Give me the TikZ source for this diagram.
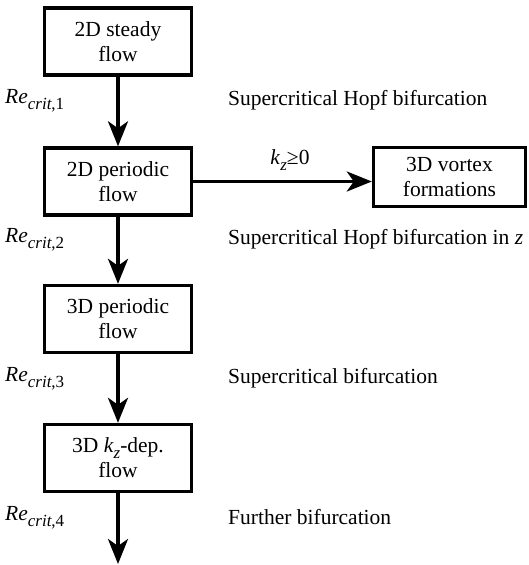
\documentclass[tikz,border=0pt]{standalone}
\usepackage{fontspec}
\setmainfont{Liberation Serif}
\usetikzlibrary{arrows.meta}
\newcommand{\lowsub}[1]{\raisebox{-0.28em}{\fontsize{17}{17}\selectfont #1}}
\begin{document}
\begin{tikzpicture}[x=1pt,y=-1pt,
  flowbox/.style={draw, line width=3.4pt, minimum width=147pt, minimum height=67pt,
    align=center, inner sep=0pt, font=\fontsize{21.5}{25}\selectfont},
  lbl/.style={anchor=west, inner sep=0pt, font=\fontsize{21.5}{25}\selectfont},
  flowarrow/.style={line width=3.4pt, -{Stealth[length=25pt,width=20pt,inset=7pt]}}]
\useasboundingbox (0,0) rectangle (529,565);
\node[flowbox] (b1) at (118,41.5) {2D steady\\flow};
\node[flowbox] (b2) at (118,181.5) {2D periodic\\flow};
\node[flowbox] (b3) at (118,319) {3D periodic\\flow};
\node[flowbox] (b4) at (118,458) {3D \textit{k}\lowsub{\textit{z}}-dep.\\flow};
\node[flowbox, minimum width=152pt, minimum height=59pt] (v) at (449.5,177) {3D vortex\\formations};
\coordinate (end) at (118,564);
\draw[flowarrow] (b1) -- (b2);
\draw[flowarrow] (b2) -- (b3);
\draw[flowarrow] (b3) -- (b4);
\draw[flowarrow] (b4) -- (end);
\draw[flowarrow] (b2.east) -- (b2.east -| v.west);
\node[lbl, anchor=center] (kz) at (290,160) {\textit{k}\lowsub{\textit{z}}≥0};
\node[lbl] (r1) at (5,101) {\textit{Re}\lowsub{\textit{crit},1}};
\node[lbl] (r2) at (5,240) {\textit{Re}\lowsub{\textit{crit},2}};
\node[lbl] (r3) at (5,379) {\textit{Re}\lowsub{\textit{crit},3}};
\node[lbl] (r4) at (5,518) {\textit{Re}\lowsub{\textit{crit},4}};
\node[lbl] (t1) at (228,100) {Supercritical Hopf bifurcation};
\node[lbl] (t2) at (228,239) {Supercritical Hopf bifurcation in \textit{z}};
\node[lbl] (t3) at (228,378) {Supercritical bifurcation};
\node[lbl] (t4) at (228,517) {Further bifurcation};
\end{tikzpicture}
\end{document}
